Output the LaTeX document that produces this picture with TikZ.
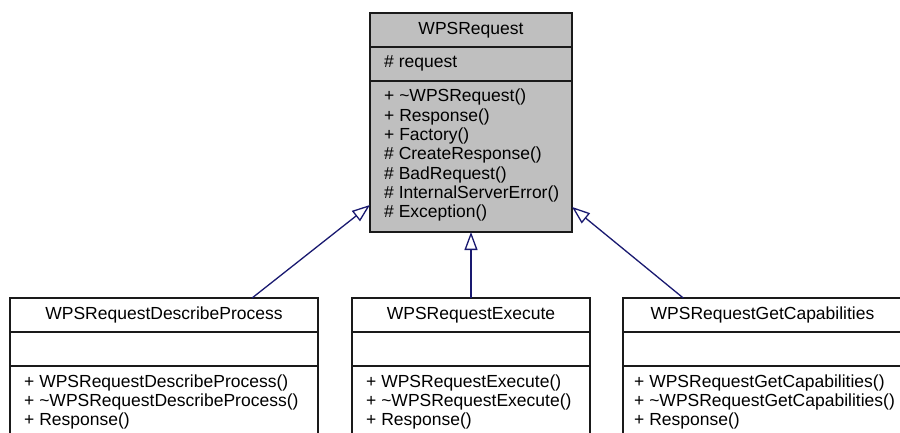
\documentclass[tikz,border=0pt]{standalone}
\usepackage{fontspec}
\setmainfont{Liberation Sans}
\usetikzlibrary{arrows.meta,calc}
\definecolor{edgeblue}{HTML}{191970}
\definecolor{basefill}{HTML}{BFBFBF}
\definecolor{boxline}{HTML}{1A1A1A}
\begin{document}
\begin{tikzpicture}[x=1pt,y=-1pt,
  part/.style={draw=boxline, line width=1.4pt, anchor=north west,
    inner sep=0pt, outer sep=0pt, minimum width=#1},
  titlepart/.style={part=#1, minimum height=34pt,
    text height=12.5pt, text depth=3.5pt,
    font=\fontsize{17.5}{19.3}\selectfont},
  member/.style={anchor=base west, inner sep=0pt,
    font=\fontsize{17.5}{19.3}\selectfont},
  inherit/.style={draw=edgeblue, line width=1.3pt,
    -{Triangle[fill=white, length=18pt, width=13pt, line width=1.3pt]}}
]
\useasboundingbox (0,0) rectangle (900,433);
\clip (0,0) rectangle (900,433);
\fill[white] (0,0) rectangle (900,433);

% base class
\node[titlepart=202pt, fill=basefill] (base) at (370,13) {WPSRequest};
\node[part=202pt, minimum height=34pt, fill=basefill] (base-attr) at (370,47) {};
\node[part=202pt, minimum height=151pt, fill=basefill] (base-ops) at (370,81) {};
\node[member] (base-a1) at (384,68) {\# request};
\foreach \t [count=\i] in {{+ \textasciitilde WPSRequest()},{+ Response()},{+ Factory()},
  {\# CreateResponse()},{\# BadRequest()},{\# InternalServerError()},{\# Exception()}}
  \node[member] (base-op\i) at (384,{102+19.3*(\i-1)}) {\t};

% derived classes
\node[titlepart=308pt] (dp) at (10,298) {WPSRequestDescribeProcess};
\node[part=308pt, minimum height=34pt] (dp-attr) at (10,332) {};
\node[part=308pt, minimum height=110pt] (dp-ops) at (10,366) {};
\foreach \t [count=\i] in {{+ WPSRequestDescribeProcess()},
  {+ \textasciitilde WPSRequestDescribeProcess()},{+ Response()}}
  \node[member] (dp-op\i) at (24,{387+19*(\i-1)}) {\t};

\node[titlepart=238pt] (ex) at (352,298) {WPSRequestExecute};
\node[part=238pt, minimum height=34pt] (ex-attr) at (352,332) {};
\node[part=238pt, minimum height=110pt] (ex-ops) at (352,366) {};
\foreach \t [count=\i] in {{+ WPSRequestExecute()},
  {+ \textasciitilde WPSRequestExecute()},{+ Response()}}
  \node[member] (ex-op\i) at (366,{387+19*(\i-1)}) {\t};

\node[titlepart=279pt] (gc) at (623,298) {WPSRequestGetCapabilities};
\node[part=279pt, minimum height=34pt] (gc-attr) at (623,332) {};
\node[part=279pt, minimum height=110pt] (gc-ops) at (623,366) {};
\foreach \t [count=\i] in {{+ WPSRequestGetCapabilities()},
  {+ \textasciitilde WPSRequestGetCapabilities()},{+ Response()}}
  \node[member] (gc-op\i) at (634,{387+19*(\i-1)}) {\t};

% generalisation arrows
\draw[inherit] ($(dp.north west)!0.786!(dp.north east)$)
  -- ($(base-ops.north west)!0.821!(base-ops.south west)$);
\draw[inherit] (ex.north -| base-ops.south) -- (base-ops.south);
\draw[inherit] ($(gc.north west)!0.216!(gc.north east)$)
  -- ($(base-ops.north east)!0.834!(base-ops.south east)$);
\end{tikzpicture}
\end{document}
